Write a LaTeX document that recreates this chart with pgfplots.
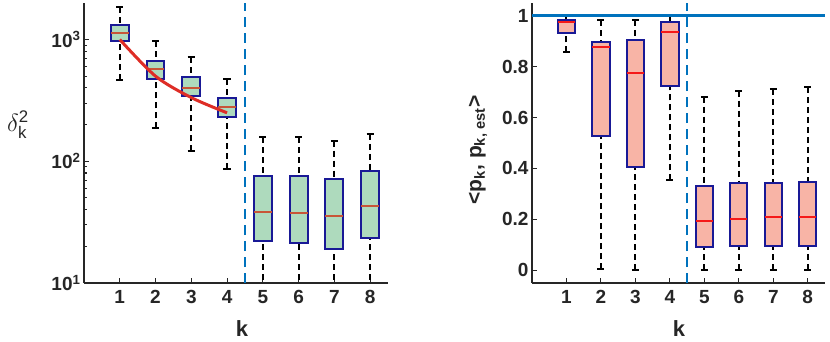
\documentclass[border=0pt]{standalone}
\usepackage{pgfplots}
\pgfplotsset{compat=1.18}
\usepackage{amsmath}
\usepackage{fontspec}
\setmainfont{Liberation Sans}
\definecolor{boxedge}{RGB}{25,25,150}
\definecolor{greenfill}{RGB}{174,218,189}
\definecolor{salmonfill}{RGB}{248,180,166}
\definecolor{medbrown}{RGB}{200,85,55}
\definecolor{medred}{RGB}{245,25,25}
\definecolor{mblue}{RGB}{0,114,189}
\definecolor{axgray}{RGB}{38,38,38}
\definecolor{linered}{RGB}{222,45,38}
\pgfplotsset{
  mystyle/.style={
    scale only axis,
    width=304pt, height=280pt,
    axis x line*=bottom, axis y line*=left,
    axis line style={axgray, line width=1.6pt},
    tick style={axgray, line width=1.1pt},
    tick align=inside,
    major tick length=5pt,
    minor tick length=3pt,
    xmin=0, xmax=8.5,
    xtick={1,2,3,4,5,6,7,8},
    xticklabels={1,2,3,4,5,6,7,8},
    ticklabel style={font=\fontsize{19}{19}\selectfont\bfseries, text=axgray},
    xticklabel style={yshift=-4pt},
  },
  whisk/.style={black, line width=2pt, dash pattern=on 6pt off 4pt},
  capst/.style={black, line width=2pt},
  gbox/.style={draw=boxedge, line width=2pt, fill=greenfill, line join=miter},
  rbox/.style={draw=boxedge, line width=2pt, fill=salmonfill, line join=miter},
  gmed/.style={medbrown, line width=2pt},
  rmed/.style={medred, line width=2pt},
}
% #1 position, #2 g/r, #3 lower whisker, #4 lower quartile, #5 median, #6 upper quartile, #7 upper whisker
\newcommand{\bplot}[7]{%
  \pgfmathsetmacro\bxl{#1-0.25}\pgfmathsetmacro\bxr{#1+0.25}%
  \pgfmathsetmacro\cxl{#1-0.1}\pgfmathsetmacro\cxr{#1+0.1}%
  \addplot[whisk] coordinates {(#1,#3) (#1,#4)};
  \addplot[whisk] coordinates {(#1,#7) (#1,#6)};
  \addplot[capst] coordinates {(\cxl,#3) (\cxr,#3)};
  \addplot[capst] coordinates {(\cxl,#7) (\cxr,#7)};
  \addplot[#2box] coordinates {(\bxl,#4) (\bxr,#4) (\bxr,#6) (\bxl,#6)} -- cycle;
  \addplot[#2med] coordinates {(\bxl,#5) (\bxr,#5)};
}
\begin{document}
\begin{tikzpicture}
\path[use as bounding box] (0pt,0pt) rectangle (830pt,341pt);
% ---------------- left panel
\begin{axis}[mystyle, at={(84pt,58pt)}, anchor=south west,
  ymode=log, ymin=10, ymax=1995,
  ytick={10,100,1000},
  yticklabels={10\textsuperscript{1},10\textsuperscript{2},10\textsuperscript{3}}]
\bplot{1}{g}{463}{970}{1130}{1324}{1846}
\bplot{2}{g}{186}{476}{571}{670}{970}
\bplot{3}{g}{121}{341}{402}{491}{716}
\bplot{4}{g}{86}{230}{277}{328}{470}
\bplot{5}{g}{5}{22.0}{38.2}{76}{158}
\bplot{6}{g}{5}{21.2}{37.8}{76}{158}
\bplot{7}{g}{5}{19.2}{35.2}{71.3}{148}
\bplot{8}{g}{5}{23.3}{42.8}{82.4}{168}
\addplot[linered, line width=3pt, smooth] coordinates {(1,1000) (2,500) (3,333.3) (4,250)};
\addplot[mblue, line width=2.5pt, dash pattern=on 10pt off 6pt] coordinates {(4.5,10) (4.5,1995)};
\end{axis}
% ---------------- right panel
\begin{axis}[mystyle, at={(532pt,58pt)}, anchor=south west, width=293pt,
  ymin=-0.05, ymax=1.05,
  ytick={0,0.2,0.4,0.6,0.8,1},
  yticklabels={0,0.2,0.4,0.6,0.8,1}]
\bplot{1}{r}{0.856}{0.931}{0.974}{0.984}{0.999}
\bplot{2}{r}{0.005}{0.527}{0.878}{0.897}{0.983}
\bplot{3}{r}{0.003}{0.405}{0.775}{0.905}{0.984}
\bplot{4}{r}{0.353}{0.722}{0.935}{0.974}{0.999}
\bplot{5}{r}{0.003}{0.091}{0.195}{0.331}{0.682}
\bplot{6}{r}{0.003}{0.094}{0.203}{0.341}{0.706}
\bplot{7}{r}{0.003}{0.094}{0.208}{0.342}{0.712}
\bplot{8}{r}{0.003}{0.094}{0.208}{0.345}{0.720}
\addplot[mblue, line width=2.5pt] coordinates {(0,1) (8.5,1)};
\addplot[mblue, line width=2.5pt, dash pattern=on 10pt off 6pt] coordinates {(4.5,-0.05) (4.5,1.05)};
\end{axis}
% ---------------- labels
\node[text=axgray] at (242pt,12pt) {\fontsize{22}{22}\selectfont\bfseries k};
\node[text=axgray] at (679pt,12pt) {\fontsize{22}{22}\selectfont\bfseries k};
\node[text=axgray] at (18pt,216pt) {\fontsize{24}{24}\selectfont$\delta^{\text{2}}_{\text{k}}$};
\node[text=axgray, rotate=90] at (478pt,191pt) {\fontsize{21}{21}\selectfont\bfseries <p\textsubscript{k}, p\textsubscript{k, est}>};
\end{tikzpicture}
\end{document}
